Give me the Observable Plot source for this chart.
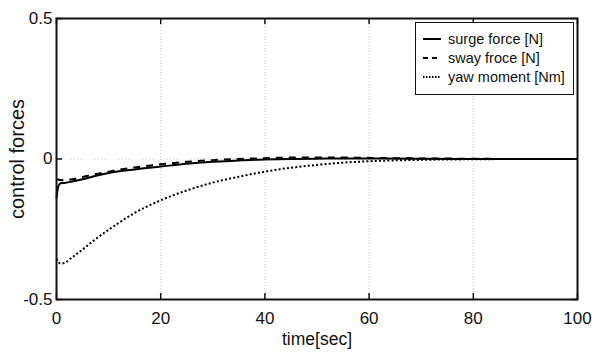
<!DOCTYPE html>
<html>
<head>
<meta charset="utf-8">
<script src="https://cdn.jsdelivr.net/npm/d3@7"></script>
<script src="https://cdn.jsdelivr.net/npm/@observablehq/plot@0.6"></script>
<style>
  html, body { margin: 0; padding: 0; background: #fff; }
  #wrap { position: relative; width: 601px; height: 359px; font-family: "Liberation Sans", Arial, Helvetica, sans-serif; }
  #legend { position: absolute; left: 415px; top: 22px; width: 157px; height: 71px; border: 1.5px solid #111; background: #fff; font-size: 14.5px; color: #111; }
  #legend .row { position: absolute; left: 7px; height: 18px; display: flex; align-items: center; }
  #legend svg { margin-right: 7px; }
</style>
</head>
<body>
<div id="wrap"></div>
<script>
// time [sec]
const time  = [0, 0.3, 0.8, 1.5, 3, 5, 8, 10, 15, 20, 25, 30, 35, 40, 45, 50, 55, 60, 70, 80, 90, 100];
// surge force [N]
const surge = [-0.14, -0.10, -0.086, -0.085, -0.080, -0.072, -0.058, -0.050, -0.037, -0.027, -0.017, -0.010, -0.005, -0.002, 0.000, 0.001, 0.002, 0.002, 0.001, 0.000, 0.000, 0.000];
// sway froce [N]
const sway  = [-0.072, -0.073, -0.075, -0.076, -0.072, -0.064, -0.052, -0.045, -0.030, -0.019, -0.010, -0.004, 0.000, 0.003, 0.005, 0.005, 0.005, 0.004, 0.002, 0.001, 0.000, 0.000];
// yaw moment [Nm]
const yaw   = [-0.355, -0.365, -0.372, -0.370, -0.350, -0.322, -0.278, -0.252, -0.192, -0.147, -0.112, -0.084, -0.063, -0.045, -0.031, -0.021, -0.013, -0.008, -0.003, -0.001, 0.000, 0.000];

const seriesNames = ["surge force [N]", "sway froce [N]", "yaw moment [Nm]"];
const seriesValues = [surge, sway, yaw];
const dashes = [null, "7,6", "2,2.2"];

const xTicks = [0, 20, 40, 60, 80, 100];
const yTicks = [-0.5, 0, 0.5];
const xGrid = [20, 40, 60, 80];
const yGrid = [0];
const xLabel = "time[sec]";
const yLabel = "control forces";

const fmt = d => String(d);

const lineMarks = seriesValues.map((vals, i) =>
  Plot.line(time.map((t, j) => ({t, v: vals[j]})), {
    x: "t", y: "v", stroke: "#000", strokeWidth: 2,
    strokeDasharray: dashes[i], strokeLinecap: "butt", strokeLinejoin: "round", curve: "monotone-x"
  })
);

const FW = 601 - 56 - 24, FH = 359 - 18 - 60, TL = 6;

const chart = Plot.plot({
  width: 601,
  height: 359,
  marginTop: 18,
  marginRight: 24,
  marginBottom: 60,
  marginLeft: 56,
  style: { fontFamily: '"Liberation Sans", Arial, Helvetica, sans-serif', fontSize: "17px", color: "#111", background: "#fff" },
  x: { domain: [0, 100] },
  y: { domain: [-0.5, 0.5] },
  marks: [
    Plot.ruleX(xGrid, { stroke: "#c8c8c8", strokeDasharray: "1,2" }),
    Plot.ruleY(yGrid, { stroke: "#c8c8c8", strokeDasharray: "1,2" }),
    ...lineMarks,
    // inward ticks
    Plot.tickX(xTicks, { x: d => d, insetTop: FH - TL, stroke: "#111", strokeWidth: 1.5 }),
    Plot.tickX(xTicks, { x: d => d, insetBottom: FH - TL, stroke: "#111", strokeWidth: 1.5 }),
    Plot.tickY(yTicks, { y: d => d, insetRight: FW - TL, stroke: "#111", strokeWidth: 1.5 }),
    Plot.tickY(yTicks, { y: d => d, insetLeft: FW - TL, stroke: "#111", strokeWidth: 1.5 }),
    // tick labels
    Plot.axisX(xTicks, { anchor: "bottom", tickSize: 0, tickPadding: 12, tickFormat: fmt, label: null, fontSize: 17 }),
    Plot.axisY(yTicks, { anchor: "left", tickSize: 0, tickPadding: 4, tickFormat: fmt, label: null, fontSize: 17 }),
    // axis titles
    Plot.text([xLabel], { text: d => d, frameAnchor: "bottom", dy: 45, fontSize: 17.5, fill: "#111", textAnchor: "middle" }),
    Plot.text([yLabel], { text: d => d, frameAnchor: "left", dx: -39, rotate: -90, fontSize: 20, fill: "#111", textAnchor: "middle" }),
    Plot.frame({ stroke: "#111", strokeWidth: 2 })
  ]
});

const wrap = document.getElementById("wrap");
wrap.appendChild(chart);

// legend
const legend = document.createElement("div");
legend.id = "legend";
seriesNames.forEach((name, i) => {
  const row = document.createElement("div");
  row.className = "row";
  row.style.top = (7 + i * 19) + "px";
  const dash = dashes[i] ? ` stroke-dasharray="${i === 1 ? '5,4' : '1.5,1.5'}"` : "";
  row.innerHTML = `<svg width="18" height="4"><line x1="0" y1="2" x2="18" y2="2" stroke="#000" stroke-width="2"${dash}/></svg><span>${name}</span>`;
  legend.appendChild(row);
});
wrap.appendChild(legend);
</script>
</body>
</html>
